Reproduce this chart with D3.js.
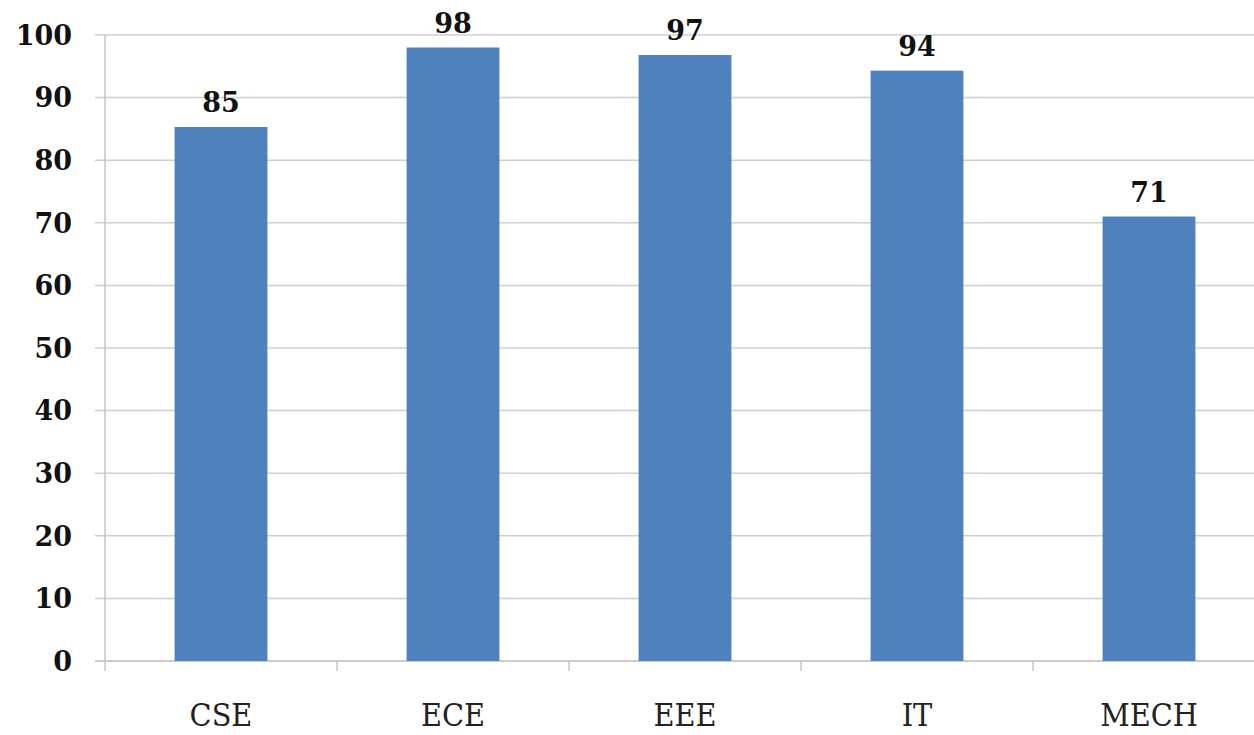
<!DOCTYPE html>
<html>
<head>
<meta charset="utf-8">
<script src="https://cdn.jsdelivr.net/npm/d3@7"></script>
<style>
  html, body { margin: 0; padding: 0; background: #fff; }
  svg { display: block; }
  .tick-label { font-family: "DejaVu Serif", serif; font-weight: bold; font-size: 27px; fill: #111; }
  .value-label { font-family: "DejaVu Serif", serif; font-weight: bold; font-size: 27px; fill: #111; }
  .cat-label { font-family: "DejaVu Serif", serif; font-stretch: condensed; font-size: 32px; fill: #222; }
</style>
</head>
<body>
<div id="chart"></div>
<script>
const categories = ['CSE', 'ECE', 'EEE', 'IT', 'MECH']
const values = [85.3, 98, 96.8, 94.3, 71]
const yTicks = [0, 10, 20, 30, 40, 50, 60, 70, 80, 90, 100]

const width = 1254
const height = 735
const margin = {top: 35, right: -11, bottom: 74, left: 105}

const svg = d3.select('#chart').append('svg')
  .attr('width', width)
  .attr('height', height)

const x = d3.scaleBand()
  .domain(categories)
  .range([margin.left, width - margin.right])
  .paddingInner(0.6)
  .paddingOuter(0.3)

const y = d3.scaleLinear()
  .domain([0, 100])
  .range([height - margin.bottom, margin.top])

// band boundaries for the category tick marks
const step = x.step()
const bandStart = (i) => x(categories[i]) - x.paddingInner() * step / 2

// horizontal gridlines
svg.append('g')
  .selectAll('line')
  .data(yTicks)
  .join('line')
    .attr('x1', margin.left - 10)
    .attr('x2', width)
    .attr('y1', (d) => y(d))
    .attr('y2', (d) => y(d))
    .attr('stroke', (d) => d === 0 ? '#bdbdbd' : '#cfcfcf')
    .attr('stroke-width', 1.5)

// y axis line
svg.append('line')
  .attr('x1', margin.left).attr('x2', margin.left)
  .attr('y1', y(100)).attr('y2', y(0) + 10)
  .attr('stroke', '#c4c4c4')
  .attr('stroke-width', 1.5)

// category tick marks
svg.append('g')
  .selectAll('line')
  .data(d3.range(1, categories.length))
  .join('line')
    .attr('x1', (i) => bandStart(i))
    .attr('x2', (i) => bandStart(i))
    .attr('y1', y(0))
    .attr('y2', y(0) + 10)
    .attr('stroke', '#c4c4c4')
    .attr('stroke-width', 1.5)

// y tick labels
svg.append('g')
  .selectAll('text')
  .data(yTicks)
  .join('text')
    .attr('class', 'tick-label')
    .attr('x', 72)
    .attr('y', (d) => y(d))
    .attr('dy', '0.36em')
    .attr('text-anchor', 'end')
    .text((d) => d)

// bars
svg.append('g')
  .selectAll('rect')
  .data(values)
  .join('rect')
    .attr('x', (d, i) => x(categories[i]))
    .attr('y', (d) => y(d))
    .attr('width', x.bandwidth())
    .attr('height', (d) => y(0) - y(d))
    .attr('fill', '#4f81bd')

// value labels
svg.append('g')
  .selectAll('text')
  .data(values)
  .join('text')
    .attr('class', 'value-label')
    .attr('x', (d, i) => x(categories[i]) + x.bandwidth() / 2)
    .attr('y', (d) => y(d) - 15)
    .attr('text-anchor', 'middle')
    .text((d) => d3.format('.0f')(d))

// category labels
svg.append('g')
  .selectAll('text')
  .data(categories)
  .join('text')
    .attr('class', 'cat-label')
    .attr('x', (d) => x(d) + x.bandwidth() / 2)
    .attr('y', 726)
    .attr('text-anchor', 'middle')
    .text((d) => d)
</script>
</body>
</html>
